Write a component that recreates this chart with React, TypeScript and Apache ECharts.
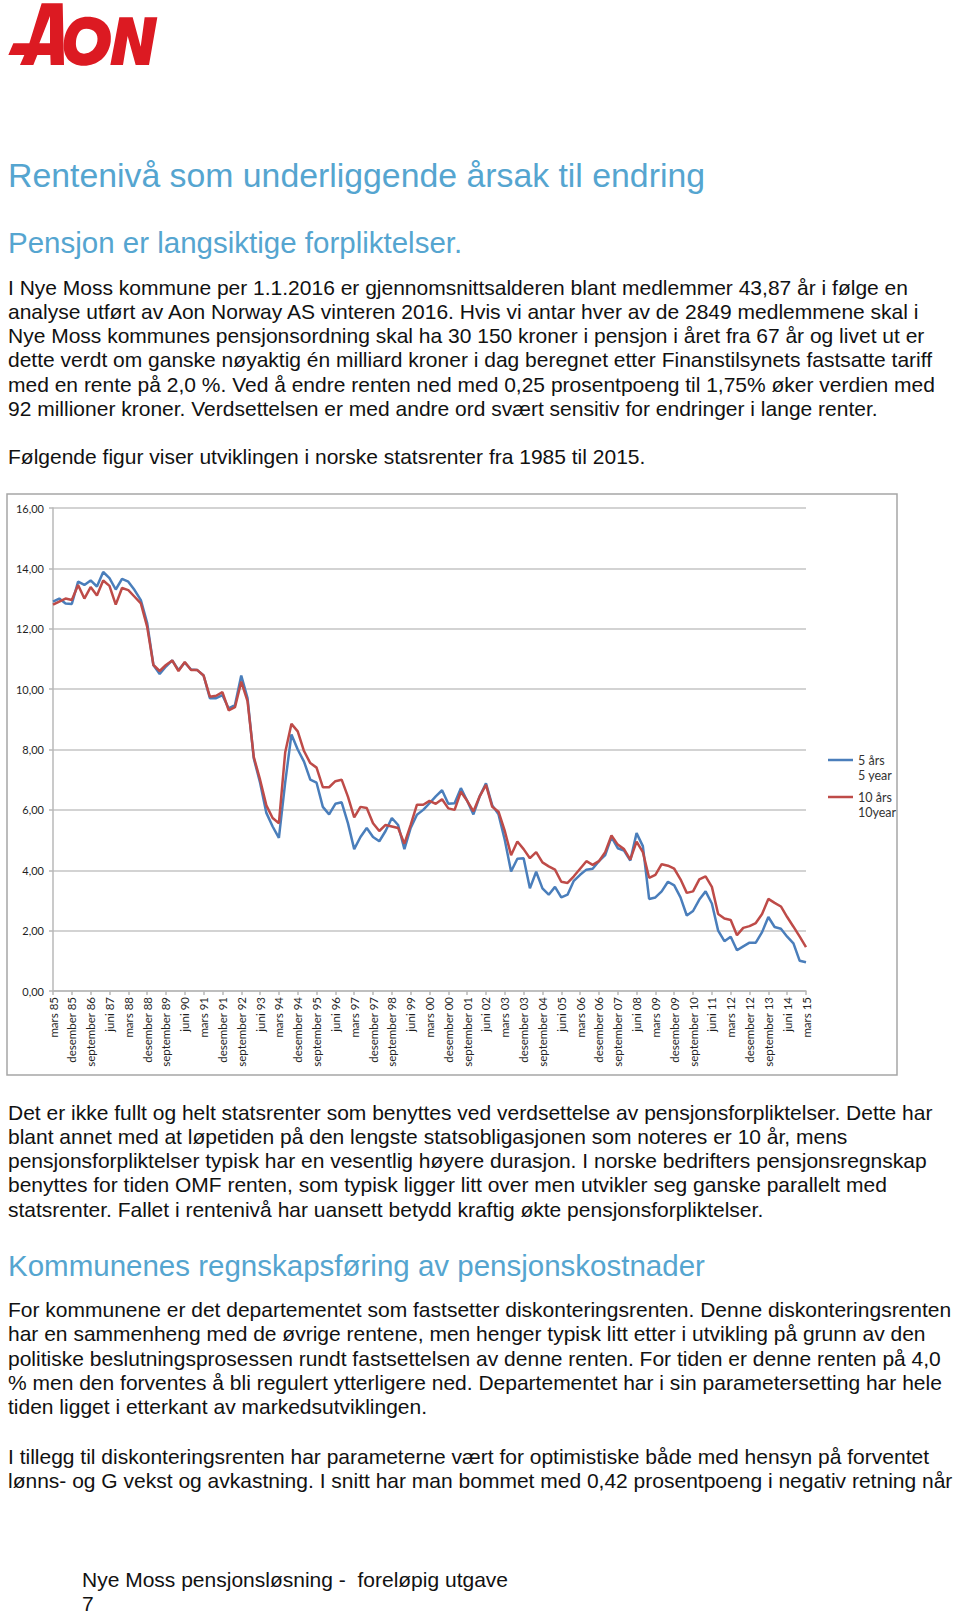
import React, { useEffect, useRef } from "react";
import * as echarts from "echarts";

// ---------- chart data (quarterly, mars 1985 – mars 2015) ----------
const QUARTER_MONTHS = ["mars", "juni", "september", "desember"];
const FIRST_YEAR = 1985;

const rate5y = [
  12.9, 13.0, 12.84, 12.82, 13.56, 13.45, 13.6, 13.4, 13.88, 13.68,
  13.3, 13.65, 13.56, 13.28, 12.95, 12.2, 10.8, 10.5, 10.75, 10.95,
  10.63, 10.88, 10.65, 10.63, 10.45, 9.7, 9.7, 9.8, 9.36, 9.47,
  10.45, 9.7, 7.7, 6.9, 5.9, 5.45, 5.07, 6.9, 8.5, 8.0,
  7.6, 7.0, 6.9, 6.1, 5.85, 6.2, 6.25, 5.56, 4.7, 5.1,
  5.4, 5.1, 4.96, 5.3, 5.73, 5.5, 4.7, 5.4, 5.84, 6.0,
  6.22, 6.45, 6.65, 6.2, 6.22, 6.72, 6.3, 5.85, 6.45, 6.88,
  6.15, 5.85, 5.0, 3.96, 4.38, 4.4, 3.4, 3.95, 3.4, 3.19,
  3.45, 3.1, 3.19, 3.65, 3.85, 4.02, 4.05, 4.3, 4.5, 5.1,
  4.73, 4.65, 4.32, 5.23, 4.8, 3.05, 3.1, 3.3, 3.62, 3.5,
  3.1, 2.5, 2.65, 3.03, 3.3, 2.9, 2.0, 1.65, 1.8, 1.35,
  1.48, 1.6, 1.6, 1.95, 2.45, 2.12, 2.06, 1.8, 1.58, 1.0,
  0.95,
];

const rate10y = [
  12.8, 12.9, 13.0, 12.95, 13.45, 13.0, 13.38, 13.1, 13.6, 13.42,
  12.8, 13.35, 13.28, 13.06, 12.84, 12.07, 10.8, 10.6, 10.8, 10.95,
  10.6, 10.9, 10.63, 10.63, 10.45, 9.75, 9.78, 9.9, 9.3, 9.4,
  10.25, 9.6, 7.75, 7.0, 6.15, 5.73, 5.56, 7.9, 8.85, 8.6,
  7.95, 7.55, 7.4, 6.75, 6.75, 6.95, 7.0, 6.44, 5.75, 6.1,
  6.06, 5.56, 5.3, 5.5, 5.45, 5.4, 4.88, 5.5, 6.17, 6.17,
  6.3, 6.2, 6.35, 6.05, 6.0, 6.6, 6.3, 5.95, 6.45, 6.83,
  6.1, 5.94, 5.3, 4.5, 4.95, 4.7, 4.4, 4.6, 4.26, 4.13,
  4.02, 3.62, 3.58, 3.8, 4.05, 4.3, 4.18, 4.3, 4.6, 5.15,
  4.85, 4.7, 4.35, 4.95, 4.6, 3.75, 3.85, 4.2, 4.15, 4.05,
  3.7, 3.25, 3.3, 3.7, 3.8, 3.45, 2.55, 2.4, 2.35, 1.85,
  2.09, 2.15, 2.25, 2.55, 3.05, 2.92, 2.8, 2.45, 2.13, 1.8,
  1.45,
];

const SERIES_NAMES = ["5 års", "10 års"];
const SERIES_SUBNAMES = ["5 year", "10year"];
const SERIES_COLORS = ["#4a7ebb", "#be4b48"];
const Y_MIN = 0;
const Y_MAX = 16;
const Y_STEP = 2;

const categories = rate5y.map((_, i) => {
  const yy = String((FIRST_YEAR + Math.floor(i / 4)) % 100).padStart(2, "0");
  return `${QUARTER_MONTHS[i % 4]} ${yy}`;
});

// ---------- page text ----------
const BLUE_TEXT = "#55a5d0";
const BODY = "#111111";
const SANS = '"Liberation Sans", Arial, Helvetica, sans-serif';

type Line = { t: string; y: number; s: number; c: string; x?: number };

const TEXT_LINES: Line[] = [
  { t: "Rentenivå som underliggende årsak til endring", y: 177, s: 33.8, c: BLUE_TEXT },
  { t: "Pensjon er langsiktige forpliktelser.", y: 243, s: 29.5, c: BLUE_TEXT },
  { t: "I Nye Moss kommune per 1.1.2016 er gjennomsnittsalderen blant medlemmer 43,87 år i følge en", y: 287.5, s: 21, c: BODY },
  { t: "analyse utført av Aon Norway AS vinteren 2016. Hvis vi antar hver av de 2849 medlemmene skal i", y: 311.8, s: 21, c: BODY },
  { t: "Nye Moss kommunes pensjonsordning skal ha 30 150 kroner i pensjon i året fra 67 år og livet ut er", y: 336.1, s: 21, c: BODY },
  { t: "dette verdt om ganske nøyaktig én milliard kroner i dag beregnet etter Finanstilsynets fastsatte tariff", y: 360.4, s: 21, c: BODY },
  { t: "med en rente på 2,0 %. Ved å endre renten ned med 0,25 prosentpoeng til 1,75% øker verdien med", y: 384.7, s: 21, c: BODY },
  { t: "92 millioner kroner. Verdsettelsen er med andre ord svært sensitiv for endringer i lange renter.", y: 409, s: 21, c: BODY },
  { t: "Følgende figur viser utviklingen i norske statsrenter fra 1985 til 2015.", y: 456.5, s: 21, c: BODY },
  { t: "Det er ikke fullt og helt statsrenter som benyttes ved verdsettelse av pensjonsforpliktelser. Dette har", y: 1112.5, s: 21, c: BODY },
  { t: "blant annet med at løpetiden på den lengste statsobligasjonen som noteres er 10 år, mens", y: 1136.8, s: 21, c: BODY },
  { t: "pensjonsforpliktelser typisk har en vesentlig høyere durasjon. I norske bedrifters pensjonsregnskap", y: 1161.1, s: 21, c: BODY },
  { t: "benyttes for tiden OMF renten, som typisk ligger litt over men utvikler seg ganske parallelt med", y: 1185.4, s: 21, c: BODY },
  { t: "statsrenter. Fallet i rentenivå har uansett betydd kraftig økte pensjonsforpliktelser.", y: 1209.7, s: 21, c: BODY },
  { t: "Kommunenes regnskapsføring av pensjonskostnader", y: 1266, s: 29.5, c: BLUE_TEXT },
  { t: "For kommunene er det departementet som fastsetter diskonteringsrenten. Denne diskonteringsrenten", y: 1310, s: 21, c: BODY },
  { t: "har en sammenheng med de øvrige rentene, men henger typisk litt etter i utvikling på grunn av den", y: 1334.3, s: 21, c: BODY },
  { t: "politiske beslutningsprosessen rundt fastsettelsen av denne renten. For tiden er denne renten på 4,0", y: 1358.6, s: 21, c: BODY },
  { t: "% men den forventes å bli regulert ytterligere ned. Departementet har i sin parametersetting har hele", y: 1382.9, s: 21, c: BODY },
  { t: "tiden ligget i etterkant av markedsutviklingen.", y: 1407.2, s: 21, c: BODY },
  { t: "I tillegg til diskonteringsrenten har parameterne vært for optimistiske både med hensyn på forventet", y: 1456.5, s: 21, c: BODY },
  { t: "lønns- og G vekst og avkastning. I snitt har man bommet med 0,42 prosentpoeng i negativ retning når", y: 1480.8, s: 21, c: BODY },
  { t: "Nye Moss pensjonsløsning -  foreløpig utgave", y: 1580, s: 21, c: BODY, x: 82 },
  { t: "7", y: 1604, s: 21, c: BODY, x: 82 },
];

const CHART_TOP = 485;
const CHART_FONT = 'Lato, "Open Sans", sans-serif';
const LEGEND_FONT_SIZE = 12.5;
const LEGEND_LINE_H = 15;
// centre of each legend line icon, in chart pixels
const LEGEND_CENTERS = [270, 307];

function Logo() {
  return (
    <svg
      width={200}
      height={80}
      viewBox="0 0 600 240"
      style={{ position: "absolute", left: 0, top: 0 }}
    >
      <path
        fill="#dc1a22"
        fillRule="evenodd"
        d="M125 10 L188 10 L192 195 L152 195 L151 165 L112 165 L100 195 L60 195 L73 165 L25 165 L40 130 L88 130 Z M118 130 L150 130 L150 48 Z"
      />
      <path
        fill="#dc1a22"
        fillRule="evenodd"
        d="M262 50 C310 50 338 80 332 125 C326 170 292 197 252 197 C206 197 186 165 192 122 C198 78 224 50 262 50 Z M259 86 C238 86 230 105 228 124 C226 146 234 161 252 161 C272 161 288 146 292 124 C296 101 282 86 259 86 Z"
      />
      <path
        fill="#dc1a22"
        d="M358 52 L398 52 L422 140 L434 52 L472 52 L447 195 L407 195 L383 108 L369 195 L331 195 Z"
      />
    </svg>
  );
}

function RateChart() {
  const ref = useRef<HTMLDivElement>(null);
  useEffect(() => {
    if (!ref.current) return;
    const chart = echarts.init(ref.current, undefined, { renderer: "svg" });
    // three-line label: empty line, name, sub-name -> the name sits level with the icon
    const legends = SERIES_NAMES.map((name, k) => ({
      orient: "vertical",
      left: 823,
      top: LEGEND_CENTERS[k] - 1.5 * LEGEND_LINE_H,
      icon: "rect",
      itemWidth: 25,
      itemHeight: 2.5,
      data: [name],
      formatter: (n: string) => ` \n${n}\n${SERIES_SUBNAMES[SERIES_NAMES.indexOf(n)]}`,
      textStyle: {
        fontFamily: CHART_FONT,
        fontSize: LEGEND_FONT_SIZE,
        lineHeight: LEGEND_LINE_H,
        color: "#333333",
      },
    }));
    chart.setOption({
      animation: false,
      backgroundColor: "#ffffff",
      textStyle: { fontFamily: CHART_FONT },
      grid: { left: 53, top: 23, width: 753, height: 483, containLabel: false },
      legend: legends,
      xAxis: {
        type: "category",
        data: categories,
        boundaryGap: false,
        axisLine: { show: true, lineStyle: { color: "#b8b8b8", width: 1.5 } },
        axisTick: { show: true, interval: 2, length: 4, lineStyle: { color: "#b8b8b8", width: 1.5 } },
        axisLabel: {
          interval: 2,
          rotate: 90,
          fontSize: 11.5,
          margin: 6,
          color: "#1f1f1f",
          fontFamily: CHART_FONT,
        },
        splitLine: { show: false },
      },
      yAxis: {
        type: "value",
        min: Y_MIN,
        max: Y_MAX,
        interval: Y_STEP,
        axisLine: { show: true, lineStyle: { color: "#b8b8b8", width: 1.5 } },
        axisTick: { show: true, length: 4, lineStyle: { color: "#b8b8b8", width: 1.5 } },
        axisLabel: {
          fontSize: 11,
          margin: 9,
          color: "#1f1f1f",
          fontFamily: CHART_FONT,
          formatter: (v: number) => v.toFixed(2).replace(".", ","),
        },
        splitLine: { show: true, lineStyle: { color: "#c4c4c4", width: 1.5 } },
      },
      series: [
        {
          name: SERIES_NAMES[0],
          type: "line",
          data: rate5y,
          symbol: "none",
          lineStyle: { width: 2.5, color: SERIES_COLORS[0] },
          itemStyle: { color: SERIES_COLORS[0] },
        },
        {
          name: SERIES_NAMES[1],
          type: "line",
          data: rate10y,
          symbol: "none",
          lineStyle: { width: 2.5, color: SERIES_COLORS[1] },
          itemStyle: { color: SERIES_COLORS[1] },
        },
      ],
      graphic: [
        {
          type: "rect",
          shape: { x: 7, y: 9, width: 890, height: 581 },
          style: { fill: "none", stroke: "#a6a6a6", lineWidth: 1.5 },
          silent: true,
          z: 0,
        },
      ],
    });
    return () => chart.dispose();
  }, []);
  return (
    <div
      ref={ref}
      style={{ position: "absolute", left: 0, top: CHART_TOP, width: 960, height: 600 }}
    />
  );
}

export default function App() {
  return (
    <div
      style={{
        position: "absolute",
        left: 0,
        top: 0,
        width: 960,
        height: 1615,
        background: "#ffffff",
        overflow: "hidden",
      }}
    >
      <Logo />
      {TEXT_LINES.map((l, i) => (
        <div
          key={i}
          style={{
            position: "absolute",
            left: l.x ?? 8,
            top: l.y - 0.52 * l.s,
            fontSize: l.s,
            lineHeight: 1,
            whiteSpace: "pre",
            fontFamily: SANS,
            color: l.c,
          }}
        >
          {l.t}
        </div>
      ))}
      <RateChart />
    </div>
  );
}
